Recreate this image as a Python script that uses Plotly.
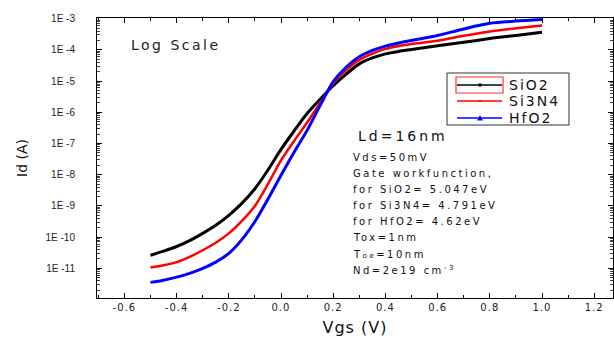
import plotly.graph_objects as go

vgs = [-0.5, -0.45, -0.4, -0.35, -0.3, -0.25, -0.2, -0.15, -0.1, -0.05, 0.0, 0.05, 0.1, 0.15,
       0.2, 0.25, 0.3, 0.35, 0.4, 0.45, 0.5, 0.6, 0.7, 0.8, 0.9, 1.0]
log_sio2 = [-10.58, -10.45, -10.30, -10.11, -9.88, -9.62, -9.30, -8.92, -8.45, -7.85, -7.19, -6.60, -6.04, -5.58,
            -5.15, -4.78, -4.45, -4.26, -4.13, -4.05, -3.99, -3.87, -3.76, -3.64, -3.54, -3.44]
log_si3n4 = [-10.97, -10.90, -10.80, -10.63, -10.42, -10.18, -9.88, -9.48, -9.00, -8.30, -7.54, -6.92, -6.33, -5.70,
             -5.08, -4.65, -4.32, -4.12, -3.97, -3.88, -3.81, -3.71, -3.55, -3.41, -3.31, -3.22]
log_hfo2 = [-11.45, -11.38, -11.28, -11.16, -11.00, -10.80, -10.52, -10.08, -9.50, -8.78, -8.02, -7.28, -6.58, -5.78,
            -5.02, -4.55, -4.22, -4.02, -3.88, -3.78, -3.70, -3.54, -3.33, -3.15, -3.08, -3.03]

id_sio2 = [10 ** v for v in log_sio2]
id_si3n4 = [10 ** v for v in log_si3n4]
id_hfo2 = [10 ** v for v in log_hfo2]

series_names = ["SiO2", "Si3N4", "HfO2"]
series_colors = ["#000000", "#ff0000", "#0000ff"]

ytick_exps = [-3, -4, -5, -6, -7, -8, -9, -10, -11]
ytick_vals = [10 ** e for e in ytick_exps]
ytick_text = ["1E -%d" % (-e) for e in ytick_exps]
xtick_vals = [-0.6, -0.4, -0.2, 0.0, 0.2, 0.4, 0.6, 0.8, 1.0, 1.2]
xtick_text = ["%.1f" % v for v in xtick_vals]

FONT = "DejaVu Sans, Liberation Sans, Arial"

fig = go.Figure()
fig.add_trace(go.Scatter(x=vgs, y=id_sio2, name=series_names[0], mode="lines",
                         line=dict(color=series_colors[0], width=3, shape="spline", smoothing=0.8)))
fig.add_trace(go.Scatter(x=vgs, y=id_si3n4, name=series_names[1], mode="lines",
                         line=dict(color=series_colors[1], width=2.5, shape="spline", smoothing=0.8)))
fig.add_trace(go.Scatter(x=vgs, y=id_hfo2, name=series_names[2], mode="lines",
                         line=dict(color=series_colors[2], width=3, shape="spline", smoothing=0.8)))

axis_common = dict(showline=True, linecolor="black", linewidth=1, mirror="ticks",
                   ticks="inside", ticklen=5, tickcolor="black", showgrid=False,
                   zeroline=False)

fig.update_xaxes(range=[-0.705, 1.272], tickvals=xtick_vals,
                 ticktext=["<span style='letter-spacing:1px'>%s</span>" % t for t in xtick_text],
                 tickfont=dict(family=FONT, size=10, color="#1a1a2a"),
                 minor=dict(ticks="inside", ticklen=3, dtick=0.1, tickcolor="black"),
                 title=dict(text="<span style='letter-spacing:1px'>Vgs (V)</span>",
                            font=dict(family=FONT, size=16, color="#111"), standoff=9),
                 **axis_common)
fig.update_yaxes(type="log", range=[-11.95, -2.98], tickvals=ytick_vals, ticktext=ytick_text,
                 tickfont=dict(family="Liberation Sans, Arial", size=10, color="#1a1a2a"),
                 minor=dict(ticks="inside", ticklen=3, dtick="D1", tickcolor="#444", showgrid=False),
                 title=dict(text="Id (A)", font=dict(family=FONT, size=14, color="#111"), standoff=14),
                 ticklabelstandoff=19,
                 **axis_common)

fig.update_layout(
    width=614, height=338,
    margin=dict(l=97, r=1, t=18, b=40),
    paper_bgcolor="white", plot_bgcolor="white",
    font=dict(family=FONT, color="#111"),
    showlegend=False,
)


def px(xp):
    return (xp - 97) / 516.0


def py(yp):
    return (298 - yp) / 280.0


# legend box drawn by hand
fig.add_shape(type="rect", xref="paper", yref="paper", x0=px(447), x1=px(569), y0=py(125), y1=py(73),
              line=dict(color="#333", width=1), fillcolor="white", layer="above")
legend_rows = [85, 101, 118]
legend_widths = [2, 1.5, 1.5]
for name, col, yr, lw in zip(series_names, series_colors, legend_rows, legend_widths):
    fig.add_shape(type="line", xref="paper", yref="paper", x0=px(457), x1=px(502), y0=py(yr), y1=py(yr),
                  line=dict(color="#444" if col == "#000000" else col, width=lw), layer="above")
    fig.add_annotation(text="<span style='letter-spacing:2px'>%s</span>" % name, xref="paper", yref="paper",
                       x=px(507), y=py(yr), xanchor="left", yanchor="middle", showarrow=False,
                       font=dict(family=FONT, size=14, color="#111"))
# legend symbols
fig.add_shape(type="rect", xref="paper", yref="paper", x0=px(478.5), x1=px(481.5), y0=py(86.5), y1=py(83.5),
              line=dict(color="black", width=0), fillcolor="black", layer="above")
fig.add_shape(type="circle", xref="paper", yref="paper", x0=px(479), x1=px(481), y0=py(102), y1=py(100),
              line=dict(color="#ff0000", width=0), fillcolor="#ff0000", layer="above")
fig.add_shape(type="path", xref="paper", yref="paper",
              path="M %f %f L %f %f L %f %f Z" % (px(477), py(120.5), px(483), py(120.5), px(480), py(115)),
              line=dict(color="#0000ff", width=0), fillcolor="#0000ff", layer="above")
fig.add_shape(type="rect", xref="paper", yref="paper", x0=px(456), x1=px(503), y0=py(93), y1=py(77),
              line=dict(color="#ff3030", width=1.2), layer="above")

fig.add_annotation(text="<span style='letter-spacing:2.5px'>Log Scale</span>", xref="paper", yref="paper",
                   x=px(129), y=py(45), xanchor="left", yanchor="middle", showarrow=False,
                   font=dict(family=FONT, size=14, color="#222"))
fig.add_annotation(text="<span style='letter-spacing:3px'>Ld=16nm</span>", xref="paper", yref="paper",
                   x=px(356), y=py(136), xanchor="left", yanchor="middle", showarrow=False,
                   font=dict(family=FONT, size=14, color="#111"))

info_lines = ["Vds=50mV", "Gate workfunction,", "for SiO2= 5.047eV", "for Si3N4= 4.791eV",
              "for HfO2= 4.62eV", "Tox=1nm", "T<span style='font-size:7px'>oe</span>=10nm",
              "Nd=2e19 cm<sup>-3</sup>"]
info_y = [157, 173, 189, 205, 221, 237, 254, 270]
for txt, yp in zip(info_lines, info_y):
    fig.add_annotation(text="<span style='letter-spacing:2.5px'>%s</span>" % txt, xref="paper", yref="paper",
                       x=px(351), y=py(yp), xanchor="left", yanchor="middle", showarrow=False,
                       font=dict(family=FONT, size=10, color="#111"))

fig.write_html("out.html", config={"displayModeBar": False},
               post_script="document.body.style.margin='0';")
